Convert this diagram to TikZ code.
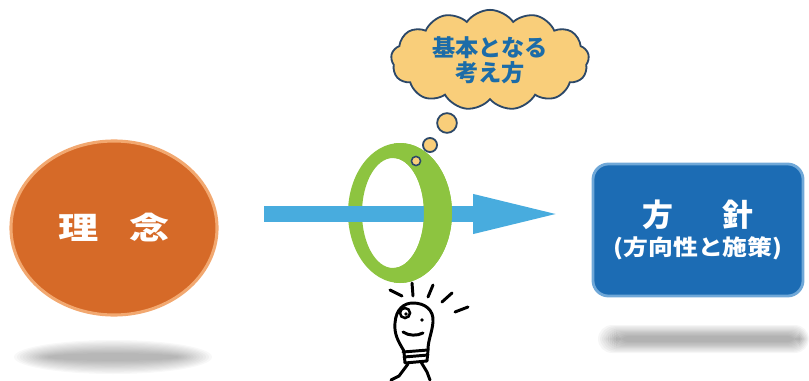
\documentclass[tikz,border=0pt]{standalone}
\usepackage{fontspec}
\usepackage{xcolor}
\usetikzlibrary{shapes.geometric,shapes.symbols,arrows.meta}
\newfontfamily\jp{Noto Sans CJK JP}
\definecolor{rin}{RGB}{214, 106, 40}
\definecolor{rinb}{RGB}{242, 168, 112}
\definecolor{hos}{RGB}{28, 108, 180}
\definecolor{hosb}{RGB}{112, 168, 216}
\definecolor{ya}{RGB}{72, 172, 222}
\definecolor{wa}{RGB}{141, 196, 64}
\definecolor{kum}{RGB}{249, 206, 122}
\definecolor{kumb}{RGB}{44, 72, 104}
\definecolor{kumt}{RGB}{28, 108, 168}
\tikzset{
  bubble/.style={fill=kum, draw=kumb, line width=1.3pt},
  pen/.style={line width=2.1pt, line cap=round, line join=round}
}

\begin{document}
\begin{tikzpicture}[x=0.025cm, y=-0.025cm]
      \useasboundingbox (0,0) rectangle (809,381);
      % shadows
      \foreach \k in {0,...,11}
        \fill[black, opacity=0.028] (113,357) ellipse [x radius={99-3*\k}, y radius={17-1.2*\k}];
      \foreach \k in {0,...,9}
        \fill[black, opacity=0.035, rounded corners=10pt] ({598+2*\k},{325+1.2*\k}) rectangle ({809-1*\k},{353-1.2*\k});
      % left and right
      \node[ellipse, fill=rin, draw=rinb, line width=2.2pt, minimum width=5.15cm, minimum height=4.35cm,
        text=white, font=\jp\bfseries\fontsize{22pt}{22pt}\selectfont] (rinen) at (114,228)
        {\scalebox{1.3}[1]{理\hspace{17pt}念}};
      \node[rectangle, rounded corners=11pt, fill=hos, draw=hosb, line width=2pt, minimum width=5.25cm, minimum height=3.3cm,
        text=white, align=center, font=\jp\bfseries] (hoshin) at (698,230)
        {{\fontsize{22pt}{22pt}\selectfont 方\hspace{35pt}針}\\[4pt]
         {\fontsize{15.5pt}{15.5pt}\selectfont\scalebox{1.14}[1]{(方向性と施策)}}};
      % ring and arrow
      \fill[wa, even odd rule] (400,213) ellipse [x radius=52, y radius=70]
        (393,213) ellipse [x radius=31, y radius=55];
      \coordinate (yamoto) at (264,214);
      \coordinate (yasaki) at (563,214);
      \draw[ya, line width=10.7pt, -{Triangle[length=64pt, width=25pt]}] (yamoto) -- (yasaki);
      \begin{scope}
        \clip (394,130) rectangle (462,300);
        \fill[wa, even odd rule] (400,213) ellipse [x radius=52, y radius=70]
          (393,213) ellipse [x radius=31, y radius=55];
      \end{scope}
      % thought cloud
      \node[cloud, cloud puffs=13, cloud puff arc=110, aspect=2.2, bubble, minimum width=4.95cm, minimum height=2.3cm,
        text=kumt, align=center, font=\jp\bfseries\fontsize{16.5pt}{18pt}\selectfont] (kumo) at (490,60)
        {基本となる\\考え方};
      \node[circle, bubble, minimum size=14pt, inner sep=0pt] (a) at (447,123) {};
      \node[circle, bubble, minimum size=10pt, inner sep=0pt] (b) at (430,145) {};
      \node[circle, bubble, minimum size=6.5pt, inner sep=0pt, line width=1.1pt] (c) at (416,161) {};
      % light bulb
      \draw[pen] (390,290)--(402,296);
      \draw[pen] (412,283)--(413,296);
      \draw[pen] (433,285)--(428,297);
      \draw[pen] (452,293)--(442,302);
      \draw[pen] (455,312)--(468,307);
      \draw[pen] (404,351) .. controls (398,341) and (394,334) .. (395,323)
        .. controls (396,309) and (404,303) .. (413,303)
        .. controls (425,303) and (434,310) .. (433,322)
        .. controls (432,333) and (428,340) .. (428,350);
      \draw[pen] (403,352) -- (428,350) (404,357) -- (428,355);
      \draw[pen] (404,352) -- (405,363) -- (427,361) -- (428,350);
      \draw[pen] (408,364) -- (399,376) -- (391,380);
      \draw[pen] (421,362) -- (427,372) -- (430,380);
      \draw[line width=1.8pt] (405,313) circle [radius=5];
      \fill (406,314) circle [radius=1.8];
      \fill (422,320) circle [radius=1.8];
      \draw[pen] (403,332) .. controls (409,336) and (417,336) .. (423,333);
    \end{tikzpicture}
\end{document}
